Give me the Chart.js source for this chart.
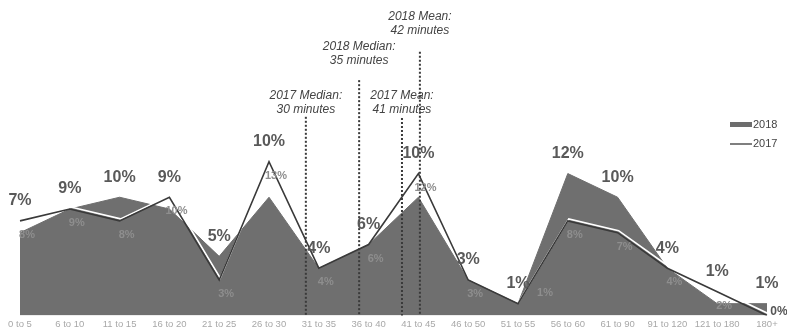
<!DOCTYPE html>
<html>
<head>
<meta charset="utf-8">
<script src="https://cdn.jsdelivr.net/npm/chart.js@4/dist/chart.umd.min.js"></script>
<style>
  html, body { margin: 0; padding: 0; background: #fff; }
  #wrap { width: 787px; height: 333px; }
</style>
</head>
<body>
<div id="wrap"><canvas id="timeChart"></canvas></div>
<script>
    // Data
    const categories = ["0 to 5", "6 to 10", "11 to 15", "16 to 20", "21 to 25", "26 to 30", "31 to 35", "36 to 40",
        "41 to 45", "46 to 50", "51 to 55", "56 to 60", "61 to 90", "91 to 120", "121 to 180", "180+"];
    const share2018 = [7, 9, 10, 9, 5, 10, 4, 6, 10, 3, 1, 12, 10, 4, 1, 1];
    const share2017 = [8, 9, 8, 10, 3, 13, 4, 6, 12, 3, 1, 8, 7, 4, 2, 0];
    const markerNames = ["2017 Median:", "2018 Median:", "2017 Mean:", "2018 Mean:"];
    const markerMinutes = [30, 35, 41, 42];

    // where the dotted markers sit (x in category units, y in percent units)
    const markerLayout = [
        { at: 5.74, top: 16.8, text: 18.6 },
        { at: 6.81, top: 19.9, text: 22.7 },
        { at: 7.67, top: 16.7, text: 18.6 },
        { at: 8.03, top: 22.3, text: 25.3 }
    ];

    Chart.defaults.font.family = "'Liberation Sans', Arial, sans-serif";

    // labels, markers and legend drawn on top of the datasets
    const overlayPlugin = {
        id: "overlay",
        beforeDatasetDraw(chart, args) {
            if (args.index === 0) {
                const ctx = chart.ctx;
                ctx.save();
                ctx.shadowColor = "#ffffff";
                ctx.shadowOffsetX = 1;
                ctx.shadowOffsetY = -2;
                ctx.shadowBlur = 0;
            }
        },
        afterDatasetDraw(chart, args) {
            if (args.index === 0) chart.ctx.restore();
        },
        afterDatasetsDraw(chart) {
            const ctx = chart.ctx;
            const xs = chart.scales.x;
            const ys = chart.scales.y;
            const bottom = chart.chartArea.bottom;

            // dotted median / mean lines
            ctx.save();
            markerLayout.forEach((m, i) => {
                const x = xs.getPixelForValue(m.at);
                ctx.strokeStyle = "#3a3a3a";
                ctx.lineWidth = 2;
                ctx.setLineDash([2, 2]);
                ctx.beginPath();
                ctx.moveTo(x, ys.getPixelForValue(m.top));
                ctx.lineTo(x, bottom);
                ctx.stroke();

                ctx.setLineDash([]);
                ctx.fillStyle = "#444";
                ctx.font = "italic 12px 'Liberation Sans', Arial, sans-serif";
                ctx.textAlign = "center";
                ctx.textBaseline = "middle";
                const ty = ys.getPixelForValue(m.text);
                ctx.fillText(markerNames[i], x, ty);
                ctx.fillText(markerMinutes[i] + " minutes", x, ty + 14);
            });
            ctx.restore();

            // value labels
            ctx.save();
            ctx.textAlign = "center";
            ctx.textBaseline = "middle";
            const last = categories.length - 1;
            categories.forEach((c, i) => {
                const x = xs.getPixelForValue(i);
                const y18 = ys.getPixelForValue(share2018[i]);
                const y17 = ys.getPixelForValue(share2017[i]);

                ctx.font = "bold 11px 'Liberation Sans', Arial, sans-serif";
                if (i === last) {
                    ctx.fillStyle = "#555";
                    ctx.font = "bold 12px 'Liberation Sans', Arial, sans-serif";
                    ctx.fillText(share2017[i] + "%", x + 12, y17 - 4);
                } else if (y17 + 14 > bottom - 6) {
                    // too close to the axis: put it beside the point
                    ctx.fillStyle = "#8e8e8e";
                    ctx.fillText(share2017[i] + "%", x + 27, y17 - 11);
                } else {
                    ctx.fillStyle = "#8e8e8e";
                    ctx.fillText(share2017[i] + "%", x + 7, y17 + 14);
                }

                ctx.font = "bold 16px 'Liberation Sans', Arial, sans-serif";
                ctx.fillStyle = "#595959";
                ctx.fillText(share2018[i] + "%", x, Math.min(y18, y17) - 20);
            });
            ctx.restore();

            // legend
            ctx.save();
            ctx.font = "11px 'Liberation Sans', Arial, sans-serif";
            ctx.textBaseline = "middle";
            ctx.textAlign = "left";
            ctx.fillStyle = "#6d6d6d";
            ctx.fillRect(730, 122, 22, 5);
            ctx.fillStyle = "#444";
            ctx.fillText(chart.data.datasets[1].label, 753, 125);
            ctx.strokeStyle = "#555";
            ctx.lineWidth = 1.5;
            ctx.beginPath();
            ctx.moveTo(730, 144);
            ctx.lineTo(752, 144);
            ctx.stroke();
            ctx.fillText(chart.data.datasets[0].label, 753, 144);
            ctx.restore();
        }
    };

    const timeChartCtx = document.getElementById("timeChart").getContext("2d");

    const timeChart = new Chart(timeChartCtx, {
        type: "line",
        data: {
            labels: categories,
            datasets: [
                {
                    label: "2017",
                    data: share2017,
                    borderColor: "#3a3a3a",
                    borderWidth: 1.6,
                    fill: false,
                    pointRadius: 0,
                    tension: 0,
                },
                {
                    label: "2018",
                    data: share2018,
                    borderColor: "#6f6f6f",
                    backgroundColor: "#6f6f6f",
                    borderWidth: 1,
                    fill: "origin",
                    pointRadius: 0,
                    tension: 0,
                },
            ],
        },
        options: {
            responsive: true,
            maintainAspectRatio: false,
            animation: false,
            layout: {
                padding: { left: 20, right: 20, top: 8, bottom: 0 },
            },
            plugins: {
                legend: { display: false },
                title: { display: false },
                tooltip: { enabled: false },
            },
            scales: {
                x: {
                    offset: false,
                    grid: { display: false, drawTicks: false },
                    border: { display: false },
                    ticks: {
                        color: "#a8a8a8",
                        font: { size: 9.5, lineHeight: 1 },
                        padding: 4,
                        maxRotation: 0,
                        autoSkip: false,
                    },
                },
                y: {
                    display: false,
                    min: 0,
                    max: 26,
                },
            },
        },
        plugins: [overlayPlugin],
    });
</script>
</body>
</html>
